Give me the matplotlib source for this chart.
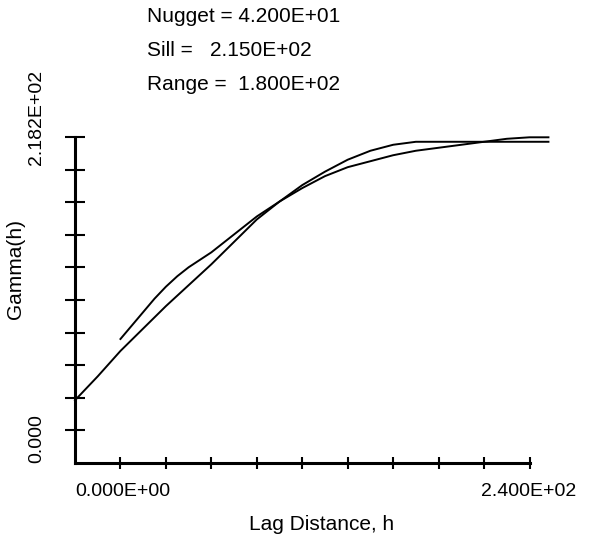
import numpy as np
import matplotlib
matplotlib.use("Agg")
import matplotlib.pyplot as plt
from matplotlib import font_manager

#%% - donnees lues sur le graphique
# parametres du modele
nugget_txt = "Nugget = 4.200E+01"
sill_txt = "Sill =   2.150E+02"
range_txt = "Range =  1.800E+02"

# courbe du modele (h, gamma)
h_model = [0, 12, 24, 36, 48, 60, 72, 84, 96, 108, 120, 132, 144, 156, 168, 180, 250]
g_model = [42, 58, 75, 90, 105, 119, 133, 148, 163, 175, 186, 195, 203, 209, 213, 215, 215]

# variogramme experimental (h, gamma)
h_exp = [24, 30, 36, 42, 48, 54, 60, 66, 72, 84, 96, 108, 120, 132, 144, 156, 168, 180, 192, 204, 216, 228, 240, 250]
g_exp = [83, 92, 101, 110, 118, 125, 131, 136, 141, 153, 165, 175, 184, 192, 198, 202, 206, 209, 211, 213, 215, 217, 218, 218]

x_max = 240.0
y_max = 218.2
x_ticks = np.arange(24, 241, 24)
y_ticks = np.linspace(y_max / 10, y_max, 10)

#%% - figure
W, H = 607, 542
fig = plt.figure(figsize=(W / 100, H / 100), dpi=100)

noms = set(f.name for f in font_manager.fontManager.ttflist)
if 'Liberation Sans Narrow' in noms:
    plt.rcParams['font.family'] = ['Liberation Sans Narrow', 'DejaVu Sans']
    fs, fs_t = 18.5, 17.5
else:
    plt.rcParams['font.family'] = ['Liberation Sans', 'DejaVu Sans']
    fs, fs_t = 15, 14

def fx(px):
    return px / W

def fy(py):
    return 1 - py / H

ax = fig.add_axes([fx(75), fy(463), fx(529.5) - fx(75), fy(137) - fy(463)])
ax.plot(h_model, g_model, color='black', lw=1.4, clip_on=False)
ax.plot(h_exp, g_exp, color='black', lw=1.4, clip_on=False)

ax.set_xlim(0, x_max)
ax.set_ylim(0, y_max)
for s in ['top', 'right']:
    ax.spines[s].set_visible(False)
for s in ['left', 'bottom']:
    ax.spines[s].set_linewidth(2.2)

ax.set_xticks(x_ticks)
ax.set_yticks(y_ticks)
ax.set_xticklabels([])
ax.set_yticklabels([])
ax.tick_params(axis='y', direction='inout', length=14, width=1.5)
ax.tick_params(axis='x', direction='inout', length=9, width=1.5)

fig.text(fx(147), fy(17), nugget_txt, fontsize=fs, va='center', ha='left')
fig.text(fx(147), fy(51), sill_txt, fontsize=fs, va='center', ha='left')
fig.text(fx(147), fy(85), range_txt, fontsize=fs, va='center', ha='left')

fig.text(fx(37), fy(117), "2.182E+02", fontsize=fs_t, rotation=90, va='center', ha='center')
fig.text(fx(37), fy(463), "0.000", fontsize=fs_t, rotation=90, va='bottom', ha='center')
fig.text(fx(16), fy(269), "Gamma(h)", fontsize=fs, rotation=90, va='center', ha='center')

fig.text(fx(75), fy(492), "0.000E+00", fontsize=fs_t, va='center', ha='left')
fig.text(fx(529), fy(492), "2.400E+02", fontsize=fs_t, va='center', ha='center')
fig.text(fx(322), fy(525), "Lag Distance, h", fontsize=fs, va='center', ha='center')

fig.savefig("out.png", dpi=100, facecolor='white')
